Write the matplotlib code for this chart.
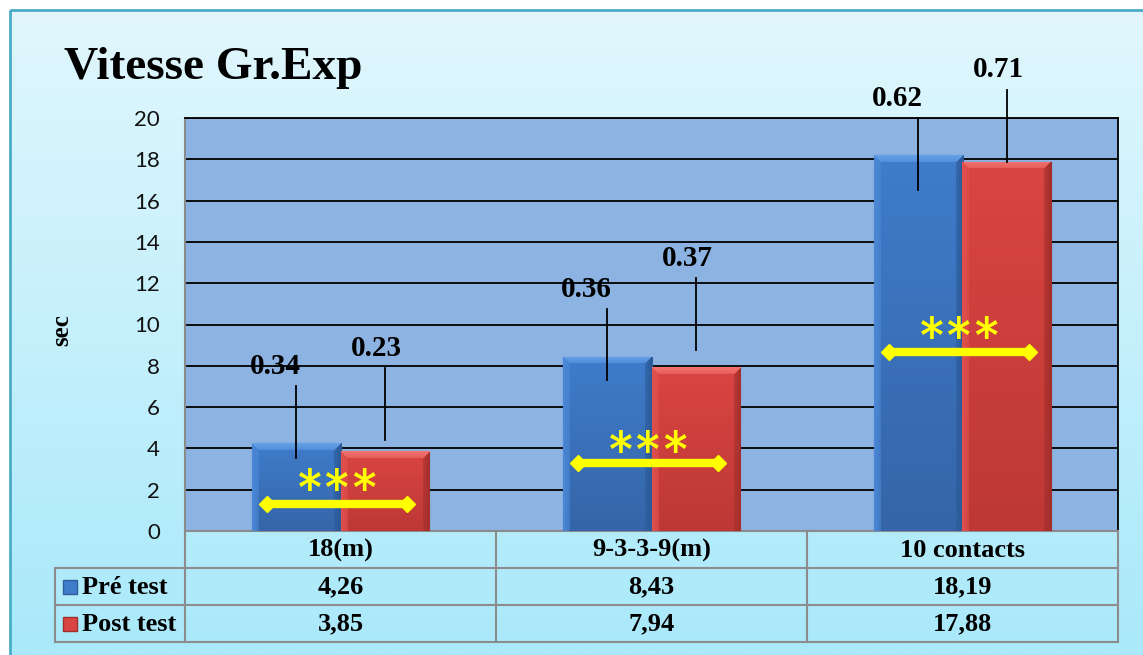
import numpy as np
import matplotlib
matplotlib.use("Agg")
import matplotlib.pyplot as plt
from matplotlib.patches import Rectangle
from matplotlib.colors import to_rgb

# ---------------- data ----------------
title = "Vitesse Gr.Exp"
ylabel = "sec"
categories = ["18(m)", "9-3-3-9(m)", "10 contacts"]
series_names = ["Pré test", "Post test"]
pre_values = [4.26, 8.43, 18.19]
post_values = [3.85, 7.94, 17.88]
pre_sd_labels = ["0.34", "0.36", "0.62"]
post_sd_labels = ["0.23", "0.37", "0.71"]
# leader lines (relative to bar top, in sec)
pre_line_lo = [-0.73, -1.11, -1.69]
pre_line_hi = [2.76, 2.32, 1.79]
post_line_lo = [0.58, 0.82, 0.0]
post_line_hi = [4.02, 4.31, 3.49]
sig_labels = ["***", "***", "***"]
sig_arrow_y = [1.31, 3.29, 8.67]
sig_text_y = [2.47, 4.31, 9.83]
yticks = list(range(0, 21, 2))
table_pre = ["4,26", "8,43", "18,19"]
table_post = ["3,85", "7,94", "17,88"]

# ---------------- style ----------------
W, H = 1143, 655
SERIF = "Liberation Serif"
SANS = "Lato"
BLUE = dict(base="#3f7ccb", bottom="#3565a8", top="#64a0e6", right="#2c5a98", left="#4a88d6", edge="#2f5d9a")
RED = dict(base="#d94542", bottom="#bd3835", top="#f2736f", right="#a42f2c", left="#e0514e", edge="#9e2e2b")
bar_w = 0.286

fig = plt.figure(figsize=(W / 100, H / 100), dpi=100)
fig.patch.set_facecolor("white")


def fx(px):
    return px / W


def fy(py):
    return 1 - py / H


# background with gradient
bg = fig.add_axes([0, 0, 1, 1], zorder=-5)
top_c = np.array(to_rgb("#e1f7fd"))
bot_c = np.array(to_rgb("#a9e9fa"))
t = np.linspace(0, 1, 256)[:, None, None]
grad = top_c * (1 - t) + bot_c * t
bg.imshow(grad, extent=[10, W, H, 10], aspect="auto", interpolation="bilinear")
bg.add_patch(Rectangle((10, 10), W, H, fill=False, ec="#4bacc6", lw=2))
bg.set_xlim(0, W)
bg.set_ylim(H, 0)
bg.axis("off")

# main axes
ax = fig.add_axes([fx(185), fy(531), fx(1118) - fx(185), (531 - 118) / H])
ax.set_facecolor("#8db3e2")


def bevel_image(hpx, wpx, c):
    hpx = max(int(round(hpx)), 2)
    wpx = max(int(round(wpx)), 2)
    base = np.array(to_rgb(c["base"]))
    bottom = np.array(to_rgb(c["bottom"]))
    topc = np.array(to_rgb(c["top"]))
    right = np.array(to_rgb(c["right"]))
    left = np.array(to_rgb(c["left"]))
    img = np.zeros((hpx, wpx, 3))
    b = 7
    for r in range(hpx):
        f = r / max(hpx - 1, 1)
        body = base * (1 - f) + bottom * f
        for cc in range(wpx):
            dl, dr = cc, wpx - 1 - cc
            if r < b and r <= min(dl, dr):
                col = topc * (1 - r / b * 0.5) + body * (r / b * 0.5)
            elif dr < b and dr <= dl:
                col = right * (1 - dr / b * 0.5) + body * (dr / b * 0.5)
            elif dl < b:
                col = left * (1 - dl / b * 0.5) + body * (dl / b * 0.5)
            else:
                col = body
            img[r, cc] = col
    return img


ppu_y = 413 / 20.0
ppu_x = 933 / 3.0

x = np.arange(len(categories))
for s, (vals, cols) in enumerate([(pre_values, BLUE), (post_values, RED)]):
    xs = x + (s - 0.5) * bar_w
    bars = ax.bar(xs, vals, width=bar_w, color=cols["base"], edgecolor=cols["edge"], lw=0.8, zorder=3)
    for xi, v, patch in zip(xs, vals, bars):
        img = bevel_image(v * ppu_y, bar_w * ppu_x, cols)
        im = ax.imshow(img, extent=[xi - bar_w / 2, xi + bar_w / 2, 0, v], aspect="auto",
                       interpolation="bilinear", zorder=3.1)
        im.set_clip_path(patch)

# leader lines + sd labels
for s, (vals, lo, hi, labs, dx) in enumerate([
        (pre_values, pre_line_lo, pre_line_hi, pre_sd_labels, -15),
        (post_values, post_line_lo, post_line_hi, post_sd_labels, -6)]):
    xs = x + (s - 0.5) * bar_w
    for xi, v, l, h, lab in zip(xs, vals, lo, hi, labs):
        ax.plot([xi, xi], [v + l, v + h], color="black", lw=1.3, zorder=4, clip_on=False)
        ax.annotate(lab, (xi, v + h), xytext=(dx, 9), textcoords="offset points",
                    ha="center", va="baseline", fontsize=21, fontweight="bold",
                    family=SERIF, color="black", zorder=5, annotation_clip=False)

# significance arrows and stars
for i in range(len(categories)):
    ya = sig_arrow_y[i]
    ax.plot([i - 0.235, i + 0.215], [ya, ya], color="#ffff00", lw=6, solid_capstyle="butt", zorder=6)
    ax.plot([i - 0.235, i + 0.215], [ya, ya], "D", color="#ffff00", ms=8, zorder=6)
    ax.annotate(sig_labels[i], (i - 0.01, sig_text_y[i]), xytext=(0, -10), textcoords="offset points",
                ha="center", va="center", fontsize=40, color="#ffff00", family="Inter", zorder=6)

ax.set_xlim(-0.5, 2.5)
ax.set_ylim(0, 20)
ax.set_yticks(yticks)
ax.set_xticks([])
ax.yaxis.grid(True, color="black", lw=1.3, zorder=1)
ax.set_axisbelow(True)
ax.tick_params(axis="y", length=0, pad=18, labelsize=16)
for lab in ax.get_yticklabels():
    lab.set_family(SANS)
    lab.set_color("#111111")
for side in ["left", "bottom"]:
    ax.spines[side].set_color("#8c8c8c")
    ax.spines[side].set_linewidth(1.5)
for side in ["top", "right"]:
    ax.spines[side].set_color("black")
    ax.spines[side].set_linewidth(1.3)

# title and axis label
fig.text(fx(64), fy(68), title, fontsize=34, fontweight="bold", family=SERIF, va="center", ha="left")
fig.text(fx(62), fy(330), ylabel, fontsize=18, fontweight="bold", family=SERIF, rotation=90,
         va="center", ha="center")

# data table
xL = -0.5 - 130 / ppu_x
tab = fig.add_axes([fx(55), fy(642), fx(1118) - fx(55), (642 - 531) / H])
tab.set_xlim(xL, 2.5)
tab.set_ylim(3, 0)
tab.axis("off")
gc = "#8c8c8c"
for yy in [1, 2, 3]:
    tab.plot([xL, 2.5], [yy, yy], color=gc, lw=1.5, clip_on=False)
tab.plot([xL, xL], [1, 3], color=gc, lw=1.5, clip_on=False)
for xx in [-0.5, 0.5, 1.5, 2.5]:
    tab.plot([xx, xx], [0, 3], color=gc, lw=1.5, clip_on=False)
for i, cat in enumerate(categories):
    tab.text(i, 0.52, cat, ha="center", va="center", fontsize=19, fontweight="bold", family=SERIF)
    tab.text(i, 1.52, table_pre[i], ha="center", va="center", fontsize=19, fontweight="bold", family=SERIF)
    tab.text(i, 2.52, table_post[i], ha="center", va="center", fontsize=19, fontweight="bold", family=SERIF)
sq = 14 / ppu_x
sqh = 14 / 37.0
for r, (name, cols) in enumerate(zip(series_names, [BLUE, RED])):
    yc = 1.5 + r
    tab.add_patch(Rectangle((xL + 8 / ppu_x, yc - sqh / 2), sq, sqh, facecolor=cols["base"],
                            edgecolor=cols["edge"], lw=1, clip_on=False))
    tab.text(xL + 27 / ppu_x, yc + 0.02, name, ha="left", va="center", fontsize=19,
             fontweight="bold", family=SERIF)

fig.savefig("out.png", dpi=100)
